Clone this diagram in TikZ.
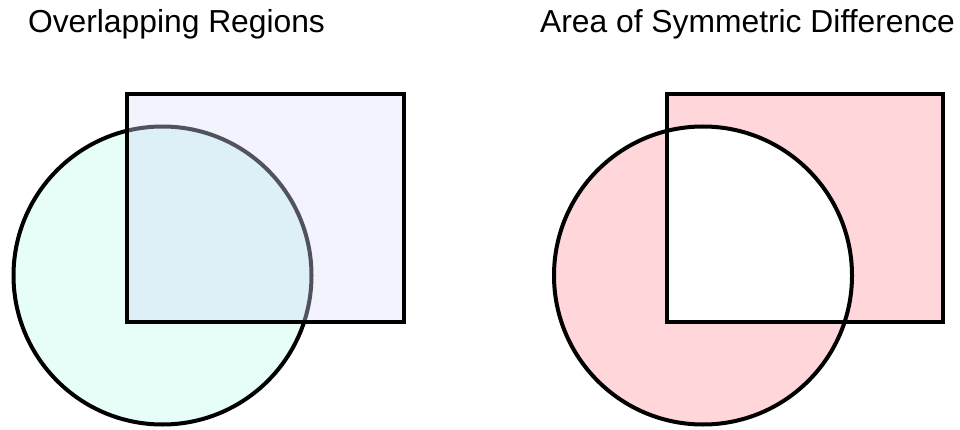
\documentclass[tikz,border=0pt]{standalone}
\usepackage{fontspec}
\setmainfont{Liberation Sans}
\usetikzlibrary{positioning}
\definecolor{mint}{RGB}{230,254,247}
\definecolor{lavender}{RGB}{243,243,254}
\definecolor{overlapblue}{RGB}{222,240,247}
\definecolor{arcgrey}{RGB}{82,82,94}
\definecolor{diffpink}{RGB}{255,214,218}
\tikzset{
  heading/.style={font=\fontsize{31.8}{38}\selectfont, anchor=base, inner sep=0pt},
  outline/.style={draw=black, line width=4pt},
}
\begin{document}
\begin{tikzpicture}[x=1pt,y=-1pt]
\useasboundingbox (0,0) rectangle (960,430);
\node[heading] (tleft) at (176.5,33) {Overlapping Regions};
\node[heading] (tright) at (747.5,33) {Area of Symmetric Difference};
% overlapping regions
\draw[outline, fill=mint] (162.5,275.5) circle (149);
\draw[outline, fill=lavender] (127,94) rectangle (404,322);
\begin{scope}
  \clip (127,94) rectangle (404,322);
  \draw[line width=4pt, draw=arcgrey, fill=overlapblue] (162.5,275.5) circle (149);
\end{scope}
\draw[outline] (127,94) rectangle (404,322);
% symmetric difference
\fill[diffpink, even odd rule] (703,275.5) circle (149) (667,94) rectangle (943,322);
\draw[outline] (703,275.5) circle (149);
\draw[outline] (667,94) rectangle (943,322);
\end{tikzpicture}
\end{document}
